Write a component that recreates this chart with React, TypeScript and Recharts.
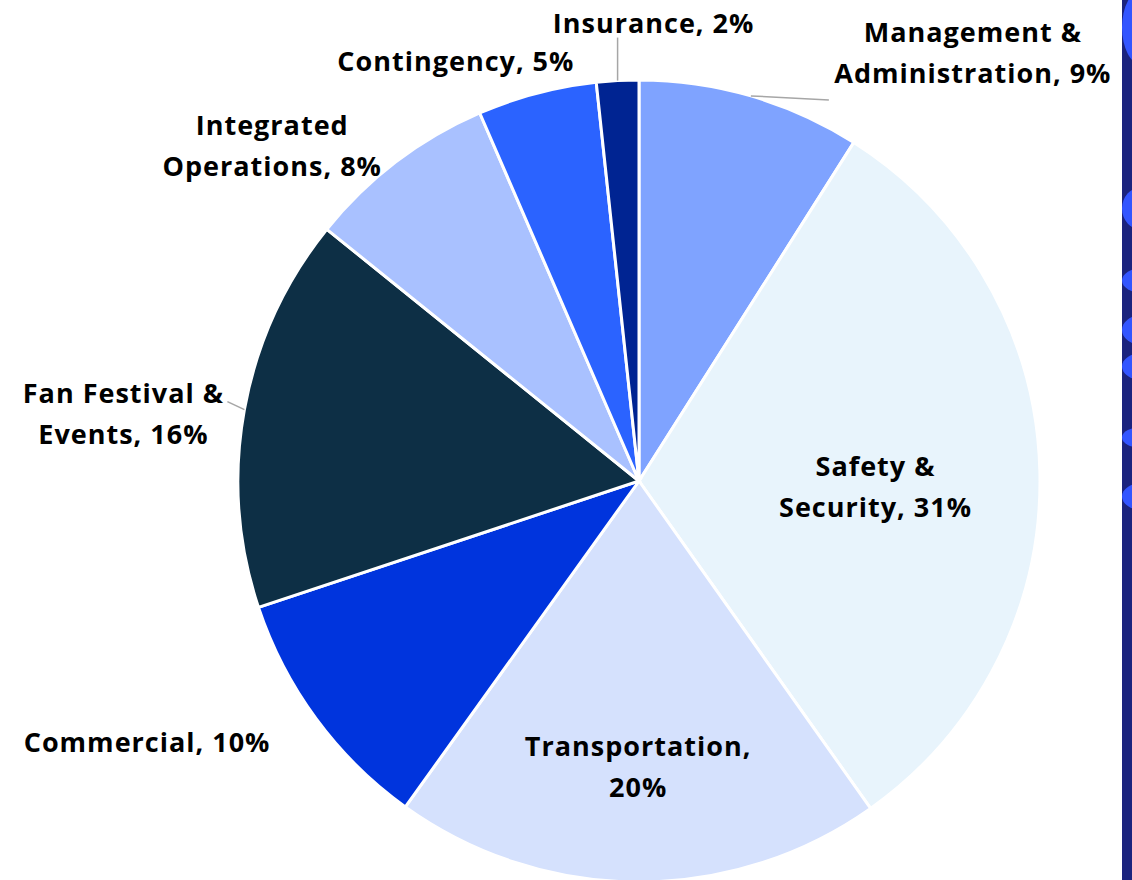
import React from "react";
import { PieChart, Pie, Cell } from "recharts";

const categories = [
  "Management & Administration",
  "Safety & Security",
  "Transportation",
  "Commercial",
  "Fan Festival & Events",
  "Integrated Operations",
  "Contingency",
  "Insurance",
];
const shares = [9.0, 31.2, 19.7, 10.0, 15.9, 7.7, 4.8, 1.7];
const colors = ["#7fa3ff", "#e8f4fc", "#d5e1fd", "#0034dd", "#0d2f45", "#a9c1ff", "#2b63ff", "#002492"];

// how each label is split into lines
const labelLines = [
  ["Management &", "Administration, {p}"],
  ["Safety &", "Security, {p}"],
  ["Transportation,", "{p}"],
  ["Commercial, {p}"],
  ["Fan Festival &", "Events, {p}"],
  ["Integrated", "Operations, {p}"],
  ["Contingency, {p}"],
  ["Insurance, {p}"],
];

// label placement: k = fraction of radius, dx/dy offset from that point, leader line end
const labelLayout = [
  { k: 1, dx: 222, dy: -44, line: [78, 4] },
  { k: 0.59, dx: 0, dy: 10 },
  { k: 0.71, dx: 0, dy: 0 },
  { k: 1, dx: -169, dy: 22 },
  { k: 1, dx: -121, dy: 3, line: [-17, -8] },
  { k: 1, dx: -124, dy: -17 },
  { k: 1, dx: -81, dy: -33 },
  { k: 1, dx: 36, dy: -59, line: [0, -43] },
];

const data = categories.map((name, i) => ({ name, value: shares[i] }));
const total = shares.reduce((a, b) => a + b, 0);
const RAD = Math.PI / 180;

const renderLabel = (props: any) => {
  const { cx, cy, midAngle, outerRadius, index, value } = props;
  const lay = labelLayout[index];
  const pct = Math.round((value / total) * 100) + "%";
  const ex = cx + outerRadius * Math.cos(-midAngle * RAD);
  const ey = cy + outerRadius * Math.sin(-midAngle * RAD);
  const r = outerRadius * lay.k;
  const x = cx + r * Math.cos(-midAngle * RAD) + lay.dx;
  const y = cy + r * Math.sin(-midAngle * RAD) + lay.dy;
  const lines = labelLines[index].map((s) => s.replace("{p}", pct));
  const lh = 41;
  const y0 = y - ((lines.length - 1) * lh) / 2;
  return (
    <g key={`lbl-${index}`}>
      {lay.line && (
        <line x1={ex} y1={ey} x2={ex + lay.line[0]} y2={ey + lay.line[1]} stroke="#a6a6a6" strokeWidth={1.5} />
      )}
      <text
        x={x}
        y={y0}
        textAnchor="middle"
        dominantBaseline="central"
        fill="#000"
        fontSize={27}
        fontWeight={700}
        letterSpacing={1}
        fontFamily="'Open Sans', sans-serif"
      >
        {lines.map((l, j) => (
          <tspan key={j} x={x} y={y0 + j * lh}>
            {l}
          </tspan>
        ))}
      </text>
    </g>
  );
};

// decorative strip at the right edge
const blobTops = [-10, 187, 268, 315, 353, 427, 483];
const blobHeights = [75, 43, 25, 30, 27, 21, 27];

export default function App() {
  return (
    <div style={{ position: "absolute", left: 0, top: 0, width: 1132, height: 880, background: "#fff", overflow: "hidden" }}>
      <div style={{ position: "absolute", left: 1122, top: 0, width: 10, height: 880, background: "#1b237e", overflow: "hidden" }}>
        {blobTops.map((t, i) => (
          <div
            key={i}
            style={{
              position: "absolute",
              left: 0,
              top: t,
              width: 40,
              height: blobHeights[i],
              borderRadius: "50%",
              background: "#3355ff",
            }}
          />
        ))}
      </div>
      <PieChart width={1122} height={880}>
        <Pie
          data={data}
          dataKey="value"
          nameKey="name"
          cx={634}
          cy={476}
          outerRadius={401}
          startAngle={90}
          endAngle={-270}
          stroke="#ffffff"
          strokeWidth={3}
          label={renderLabel}
          labelLine={false}
          isAnimationActive={false}
        >
          {data.map((d, i) => (
            <Cell key={d.name} fill={colors[i]} />
          ))}
        </Pie>
      </PieChart>
    </div>
  );
}
